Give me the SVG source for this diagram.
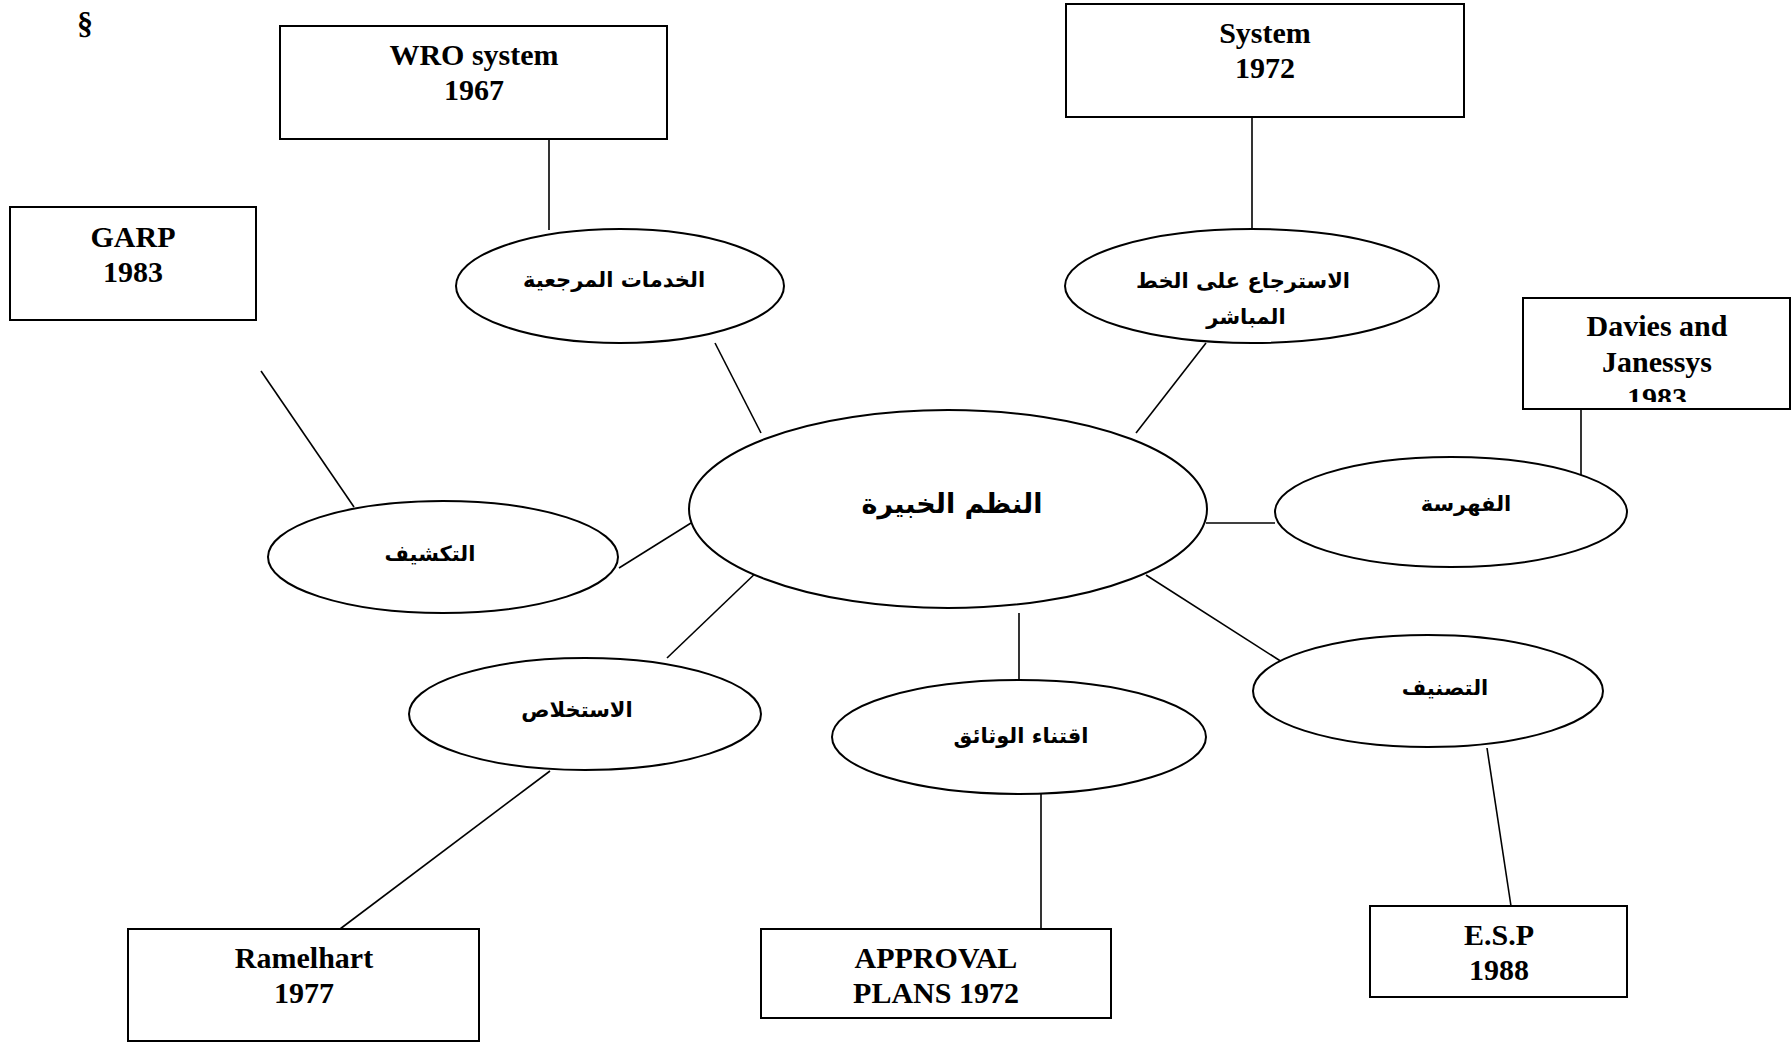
<svg xmlns="http://www.w3.org/2000/svg" width="1792" height="1042" viewBox="0 0 1792 1042">
<style>
  .box { fill: #fff; stroke: #000; stroke-width: 2; }
  .ell { fill: #fff; stroke: #000; stroke-width: 2; }
  .conn line { stroke: #000; stroke-width: 1.6; }
  .en { font-family: "Liberation Serif", "Times New Roman", serif; font-weight: bold; font-size: 30px; text-anchor: middle; fill: #000; }
  .ar { font-family: "DejaVu Sans", sans-serif; font-weight: bold; font-size: 21px; text-anchor: middle; fill: #000; }
  .arBig { font-family: "DejaVu Sans", sans-serif; font-weight: bold; font-size: 27px; text-anchor: middle; fill: #000; }
</style>
<defs>
  <clipPath id="clipDavies"><rect x="1523" y="298" width="267" height="104"/></clipPath>
</defs>
<rect width="1792" height="1042" fill="#fff"/>

<g id="connectors" class="conn">
  <line x1="549" y1="139" x2="549" y2="230"/>
  <line x1="715" y1="343" x2="761" y2="433"/>
  <line x1="1252" y1="117" x2="1252" y2="229"/>
  <line x1="1206" y1="343" x2="1136" y2="433"/>
  <line x1="1581" y1="409" x2="1581" y2="478"/>
  <line x1="1206" y1="523" x2="1275" y2="523"/>
  <line x1="261" y1="371" x2="354" y2="507"/>
  <line x1="619" y1="568" x2="691" y2="523"/>
  <line x1="761" y1="568" x2="667" y2="658"/>
  <line x1="550" y1="771" x2="340" y2="929"/>
  <line x1="1019" y1="613" x2="1019" y2="680"/>
  <line x1="1041" y1="793" x2="1041" y2="929"/>
  <line x1="1146" y1="575" x2="1282" y2="662"/>
  <line x1="1487" y1="748" x2="1511" y2="906"/>
</g>

<g id="section-mark">
  <text class="en" x="85" y="34" style="font-size:32px">§</text>
</g>

<g id="box-wro">
  <rect class="box" x="280" y="26" width="387" height="113"/>
  <text class="en" x="474" y="65">WRO system</text>
  <text class="en" x="474" y="100">1967</text>
</g>

<g id="box-system">
  <rect class="box" x="1066" y="4" width="398" height="113"/>
  <text class="en" x="1265" y="43">System</text>
  <text class="en" x="1265" y="78">1972</text>
</g>

<g id="box-garp">
  <rect class="box" x="10" y="207" width="246" height="113"/>
  <text class="en" x="133" y="247">GARP</text>
  <text class="en" x="133" y="282">1983</text>
</g>

<g id="box-davies">
  <rect class="box" x="1523" y="298" width="267" height="111"/>
  <g clip-path="url(#clipDavies)">
    <text class="en" x="1657" y="336">Davies and</text>
    <text class="en" x="1657" y="372">Janessys</text>
    <text class="en" x="1657" y="408">1983</text>
  </g>
</g>

<g id="box-ramelhart">
  <rect class="box" x="128" y="929" width="351" height="112"/>
  <text class="en" x="304" y="968">Ramelhart</text>
  <text class="en" x="304" y="1003">1977</text>
</g>

<g id="box-approval">
  <rect class="box" x="761" y="929" width="350" height="89"/>
  <text class="en" x="936" y="968">APPROVAL</text>
  <text class="en" x="936" y="1003">PLANS 1972</text>
</g>

<g id="box-esp">
  <rect class="box" x="1370" y="906" width="257" height="91"/>
  <text class="en" x="1499" y="945">E.S.P</text>
  <text class="en" x="1499" y="980">1988</text>
</g>

<g id="node-center">
  <ellipse class="ell" cx="948" cy="509" rx="259" ry="99"/>
  <text class="arBig" x="952" y="513">النظم الخبيرة</text>
</g>

<g id="node-reference">
  <ellipse class="ell" cx="620" cy="286" rx="164" ry="57"/>
  <text class="ar" x="614" y="287">الخدمات المرجعية</text>
</g>

<g id="node-online">
  <ellipse class="ell" cx="1252" cy="286" rx="187" ry="57"/>
  <text class="ar" x="1243" y="288">الاسترجاع على الخط</text>
  <text class="ar" x="1246" y="324">المباشر</text>
</g>

<g id="node-indexing">
  <ellipse class="ell" cx="1451" cy="512" rx="176" ry="55"/>
  <text class="ar" x="1466" y="511">الفهرسة</text>
</g>

<g id="node-tagging">
  <ellipse class="ell" cx="443" cy="557" rx="175" ry="56"/>
  <text class="ar" x="430" y="561">التكشيف</text>
</g>

<g id="node-abstracting">
  <ellipse class="ell" cx="585" cy="714" rx="176" ry="56"/>
  <text class="ar" x="577" y="717">الاستخلاص</text>
</g>

<g id="node-acquisition">
  <ellipse class="ell" cx="1019" cy="737" rx="187" ry="57"/>
  <text class="ar" x="1021" y="743">اقتناء الوثائق</text>
</g>

<g id="node-classification">
  <ellipse class="ell" cx="1428" cy="691" rx="175" ry="56"/>
  <text class="ar" x="1445" y="695">التصنيف</text>
</g>
</svg>
